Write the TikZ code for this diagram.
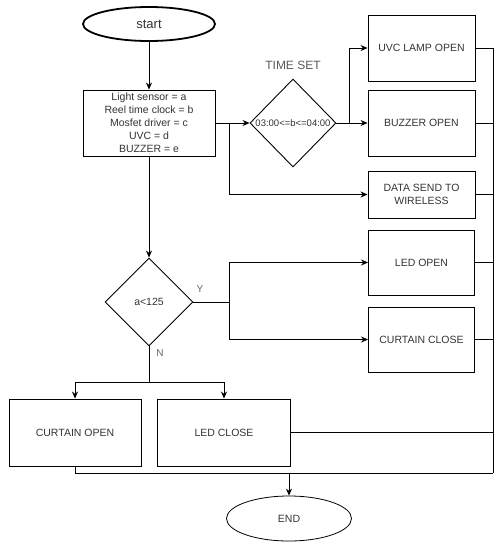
\documentclass[tikz,border=0pt]{standalone}
\usepackage{fontspec}
\setmainfont{Liberation Sans}
\usetikzlibrary{shapes.geometric,arrows.meta}
\definecolor{txt}{HTML}{333333}
\begin{document}
\begin{tikzpicture}[x=1pt,y=-1pt,
  box/.style={draw=black,line width=0.9pt,rectangle,inner sep=1pt,align=center,text=txt,font=\fontsize{10.5}{13}\selectfont},
  dia/.style={draw=black,line width=0.9pt,diamond,inner sep=0pt},
  lbl/.style={inner sep=0pt,text=txt,font=\fontsize{10.5}{13}\selectfont},
  conn/.style={draw=black,line width=0.8pt},
  arr/.style={conn,-{Stealth[length=7pt,width=6pt]}}]
\useasboundingbox (0,0) rectangle (502,550);
% nodes
\node[draw=black,line width=1.8pt,ellipse,minimum width=132pt,minimum height=34pt,inner sep=0pt,text=txt,font=\fontsize{13}{15}\selectfont] (start) at (149,24) {start};
\node[box,minimum width=132pt,minimum height=66pt] (vars) at (149,123) {Light sensor = a\\Reel time clock = b\\Mosfet driver = c\\UVC = d\\BUZZER = e};
\node[dia,minimum width=86pt,minimum height=88pt] (ts) at (293,123) {};
\node[lbl,font=\fontsize{9.5}{11}\selectfont] (tstxt) at (ts.center) {03:00<=b<=04:00};
\node[lbl,font=\fontsize{12}{14}\selectfont,text=black!65] (tslbl) at (293,65) {TIME SET};
\node[box,minimum width=107pt,minimum height=66pt] (uvc) at (421.5,48) {UVC LAMP OPEN};
\node[box,minimum width=107pt,minimum height=66pt] (buz) at (421.5,123) {BUZZER OPEN};
\node[box,minimum width=107pt,minimum height=47pt] (data) at (421.5,194.5) {DATA SEND TO\\WIRELESS};
\node[box,minimum width=106pt,minimum height=65pt] (ledo) at (421.5,262.5) {LED OPEN};
\node[box,minimum width=106pt,minimum height=65pt] (curc) at (421.5,339.5) {CURTAIN CLOSE};
\node[dia,minimum width=88pt,minimum height=88pt] (dec) at (149,302) {};
\node[lbl] (dectxt) at (dec.center) {a<125};
\node[lbl,font=\fontsize{10}{12}\selectfont,text=black!60] (ylbl) at (200,289) {Y};
\node[lbl,font=\fontsize{10}{12}\selectfont,text=black!60] (nlbl) at (160,353) {N};
\node[box,minimum width=132pt,minimum height=67pt] (curo) at (75,432.5) {CURTAIN OPEN};
\node[box,minimum width=133pt,minimum height=67pt] (ledc) at (224,432.5) {LED CLOSE};
\node[draw=black,line width=0.8pt,ellipse,minimum width=125pt,minimum height=45pt,inner sep=0pt,text=txt,font=\fontsize{10.5}{13}\selectfont] (end) at (289,518.5) {END};
% junctions
\coordinate (j1) at (229,123);
\coordinate (j2) at (349,123);
\coordinate (j3) at (229,302);
\coordinate (j4) at (149,382);
\coordinate (busB) at (493,473);
% connectors
\draw[arr] (start.south) -- (vars.north);
\draw[arr] (vars.east) -- (ts.west);
\draw[arr] (j1) |- (data.west);
\draw[arr] (ts.east) -- (buz.west);
\draw[arr] (j2) |- (uvc.west);
\draw[conn] (uvc.east) -| (busB);
\draw[conn] (buz.east) -- (buz.east -| busB);
\draw[conn] (data.east) -- (data.east -| busB);
\draw[conn] (ledo.east) -- (ledo.east -| busB);
\draw[conn] (curc.east) -- (curc.east -| busB);
\draw[conn] (ledc.east) -- (ledc.east -| busB);
\draw[conn] (curo.south) |- (busB);
\draw[arr] (end.north |- busB) -- (end.north);
\draw[arr] (vars.south) -- (dec.north);
\draw[conn] (dec.east) -- (j3);
\draw[arr] (j3) |- (ledo.west);
\draw[arr] (j3) |- (curc.west);
\draw[conn] (dec.south) -- (j4);
\draw[arr] (j4) -| (curo.north);
\draw[arr] (j4) -| (ledc.north);
\end{tikzpicture}
\end{document}
